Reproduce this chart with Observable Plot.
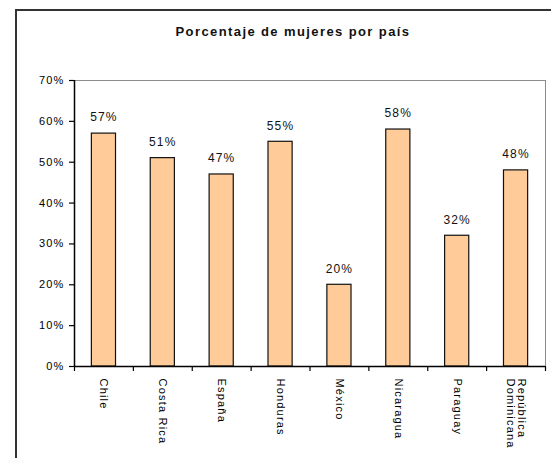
<!DOCTYPE html>
<html>
<head>
<meta charset="utf-8">
<script src="https://cdn.jsdelivr.net/npm/d3@7"></script>
<script src="https://cdn.jsdelivr.net/npm/@observablehq/plot@0.6"></script>
<style>
  html, body { margin: 0; padding: 0; background: #fff; }
  #wrap { position: relative; width: 551px; height: 458px; overflow: hidden; font-family: "Liberation Sans", Arial, sans-serif; }
  #frame { position: absolute; left: 15px; top: 9px; width: 700px; height: 700px; border-left: 2px solid #333; border-top: 2px solid #333; pointer-events: none; }
  #title { position: absolute; left: 17px; width: 552px; top: 24px; text-align: center; font-weight: bold; font-size: 13px; letter-spacing: 1.4px; color: #111; }
  #chart { position: absolute; left: 0; top: 0; }
</style>
</head>
<body>
<div id="wrap">
  <div id="chart"></div>
  <div id="frame"></div>
  <div id="title">Porcentaje de mujeres por país</div>
</div>
<script>
const paises = ["Chile", "Costa Rica", "España", "Honduras", "México", "Nicaragua", "Paraguay", "República\nDominicana"];
const porcentajes = [57, 51, 47, 55, 20, 58, 32, 48];
const yTicks = [0, 10, 20, 30, 40, 50, 60, 70];

const data = paises.map((p, i) => ({pais: p, pct: porcentajes[i]}));

const W = 551, H = 458, mL = 74, mR = 6, mT = 80, mB = 92;
const step = (W - mL - mR) / paises.length;

const chart = Plot.plot({
  width: W,
  height: H,
  marginLeft: mL,
  marginRight: mR,
  marginTop: mT,
  marginBottom: mB,
  style: {fontFamily: "'Liberation Sans', Arial, sans-serif", fontSize: "11px", color: "#000", background: "transparent", letterSpacing: "1.2px"},
  x: {domain: paises, paddingInner: 0.59, paddingOuter: 0.295, round: false, label: null},
  y: {domain: [0, 70], label: null},
  marks: [
    Plot.frame({stroke: "#8c8c8c", strokeWidth: 1}),
    Plot.barY(data, {x: "pais", y: "pct", fill: "#FFCC99", stroke: "#111", strokeWidth: 1.2}),
    Plot.text(data, {x: "pais", y: "pct", text: d => d.pct + "%", dy: -16, fontSize: 12, fill: "#111"}),
    // left axis line
    Plot.ruleX([paises[0]], {x: d => d, dx: -step / 2, stroke: "#000", strokeWidth: 1.5}),
    // bottom axis line
    Plot.ruleY([0], {stroke: "#000", strokeWidth: 1.5}),
    // x ticks at category boundaries
    Plot.ruleX(paises, {x: d => d, y1: 0, y2: 0, insetBottom: -5, dx: -step / 2, stroke: "#000", strokeWidth: 1.2}),
    Plot.ruleX([paises[paises.length - 1]], {x: d => d, y1: 0, y2: 0, insetBottom: -5, dx: step / 2, stroke: "#000", strokeWidth: 1.2}),
    Plot.axisY({ticks: yTicks, tickFormat: d => d + "%", tickSize: 5, tickPadding: 5, fontSize: 11, stroke: "#000", strokeWidth: 1.2}),
    Plot.axisX({tickRotate: 90, tickSize: 0, tickPadding: 12, fontSize: 11, lineAnchor: "middle"})
  ]
});
document.getElementById("chart").appendChild(chart);
</script>
</body>
</html>
